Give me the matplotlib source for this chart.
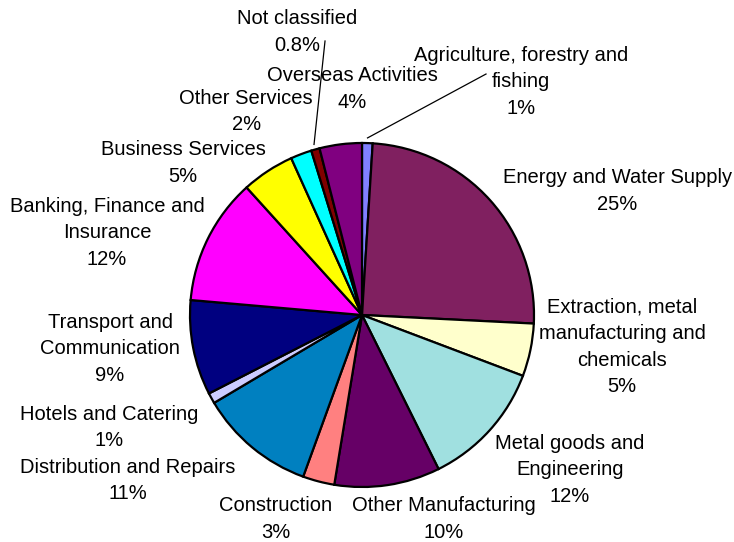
import numpy as np
import matplotlib.pyplot as plt

plt.rcParams['font.family'] = ['Liberation Sans', 'DejaVu Sans']

# sectors, clockwise from 12 o'clock
sectors = [
    'Agriculture, forestry and\nfishing',
    'Energy and Water Supply',
    'Extraction, metal\nmanufacturing and\nchemicals',
    'Metal goods and\nEngineering',
    'Other Manufacturing',
    'Construction',
    'Distribution and Repairs',
    'Hotels and Catering',
    'Transport and\nCommunication',
    'Banking, Finance and\nInsurance',
    'Business Services',
    'Other Services',
    'Not classified',
    'Overseas Activities',
]
shares = [1, 25, 5, 12, 10, 3, 11, 1, 9, 12, 5, 2, 0.8, 4]

colors = ['#8080ff', '#802060', '#ffffcc', '#a0e0e0', '#660066', '#ff8080',
          '#0080c0', '#ccccff', '#000080', '#ff00ff', '#ffff00', '#00ffff',
          '#800000', '#800080']

# label block centres (pie radius = 1)
label_xy = [(0.924, 1.355), (1.483, 0.721), (1.512, -0.186), (1.209, -0.901),
            (0.477, -1.186), (-0.5, -1.186), (-1.360, -0.962), (-1.471, -0.654),
            (-1.465, -0.195), (-1.483, 0.477), (-1.041, 0.884), (-0.674, 1.183),
            (-0.378, 1.645), (-0.058, 1.314)]
# leader line ends for the labels that sit away from their slice
leaders = {0: (0.721, 1.401), 12: (-0.215, 1.593)}

fig = plt.figure(figsize=(7.34, 5.42), dpi=100)
ax = fig.add_axes([190 / 734, 55 / 542, 344 / 734, 344 / 542])

wedges, _ = ax.pie(shares, colors=colors, startangle=90, counterclock=False,
                   radius=1, wedgeprops=dict(edgecolor='black', linewidth=1.6))
ax.set_xlim(-1, 1)
ax.set_ylim(-1, 1)
ax.set_aspect('auto')
ax.axis('off')

for i, (name, val) in enumerate(zip(sectors, shares)):
    x, y = label_xy[i]
    ax.text(x, y, f'{name}\n{val:g}%', ha='center', va='center',
            fontsize=14.5, linespacing=1.5, clip_on=False)
    if i in leaders:
        w = wedges[i]
        mid = np.deg2rad((w.theta1 + w.theta2) / 2)
        x0, y0 = 1.03 * np.cos(mid), 1.03 * np.sin(mid)
        x1, y1 = leaders[i]
        ax.plot([x0, x1], [y0, y1], color='black', lw=0.9, clip_on=False)

fig.savefig('out.png', dpi=100)
